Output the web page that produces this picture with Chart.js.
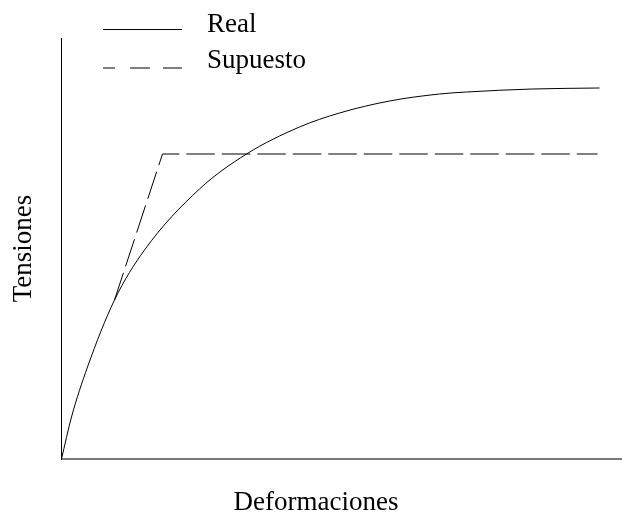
<!doctype html>
<html lang="es">
<head>
<meta charset="UTF-8">
<title>Tensiones - Deformaciones</title>
<style>
  body { margin: 0; background: #fff; }
  canvas { display: block; }
</style>
</head>
<body>
<canvas id="curva" width="622" height="512"></canvas>

<script src="https://cdn.jsdelivr.net/npm/chart.js@4.4.0/dist/chart.umd.min.js"></script>
<script>
// values (no units on the original axes)
const realX = [0, 10, 26, 53, 83, 138, 185, 238, 278, 328, 378, 405, 471, 538];
const realY = [0, 42, 92, 159, 209, 270, 305, 332, 346, 358, 365, 367, 370, 371];
const supX = [53, 101, 536];
const supY = [159, 305, 305];
const seriesNames = ['Real', 'Supuesto'];
const xTitle = 'Deformaciones';
const yTitle = 'Tensiones';

const serif = '"Liberation Serif", "Times New Roman", serif';

// legend and x title are placed by hand, like the original figure
const extras = {
    id: 'extras',
    afterDraw(chart) {
        const ctx = chart.ctx;
        const names = chart.data.datasets.map(d => d.label);
        ctx.save();
        ctx.strokeStyle = '#000';
        ctx.lineWidth = 1;

        ctx.beginPath();
        ctx.moveTo(103, 29.5);
        ctx.lineTo(182, 29.5);
        ctx.stroke();

        ctx.setLineDash([12, 15, 20, 13, 19]);
        ctx.beginPath();
        ctx.moveTo(103, 68);
        ctx.lineTo(182, 68);
        ctx.stroke();
        ctx.setLineDash([]);

        ctx.fillStyle = '#000';
        ctx.font = '27px ' + serif;
        ctx.textBaseline = 'alphabetic';
        ctx.textAlign = 'left';
        ctx.fillText(names[0], 207, 31.5);
        ctx.fillText(names[1], 207, 68);

        ctx.textAlign = 'center';
        ctx.fillText(xTitle, 316, 510);
        ctx.restore();
    }
};

new Chart(document.getElementById('curva'), {
    type: 'line',
    data: {
        datasets: [
            {
                label: seriesNames[0],
                data: realX.map((x, i) => ({x: x, y: realY[i]})),
                borderColor: '#000',
                borderWidth: 1,
                pointRadius: 0,
                cubicInterpolationMode: 'monotone',
                fill: false
            },
            {
                label: seriesNames[1],
                data: supX.map((x, i) => ({x: x, y: supY[i]})),
                borderColor: '#000',
                borderWidth: 1,
                borderDash: [28.5, 7],
                pointRadius: 0,
                tension: 0,
                fill: false
            }
        ]
    },
    options: {
        responsive: false,
        animation: false,
        layout: { padding: { top: 38, right: 0, bottom: 0, left: 0 } },
        plugins: {
            legend: { display: false },
            tooltip: { enabled: false }
        },
        scales: {
            x: {
                type: 'linear',
                min: 0,
                max: 560.5,
                grid: { display: false },
                ticks: { display: false },
                border: { display: true, color: '#7a7a7a', width: 2 },
                afterFit: s => { s.height = 53; }
            },
            y: {
                type: 'linear',
                min: 0,
                max: 421,
                grid: { display: false },
                ticks: { display: false },
                border: { display: true, color: '#000', width: 1 },
                title: {
                    display: true,
                    text: yTitle,
                    color: '#000',
                    font: { family: serif, size: 27, lineHeight: 0.8 },
                    padding: { top: 13, bottom: 0 }
                },
                afterFit: s => { s.width = 61.5; }
            }
        }
    },
    plugins: [extras]
});
</script>
</body>
</html>
